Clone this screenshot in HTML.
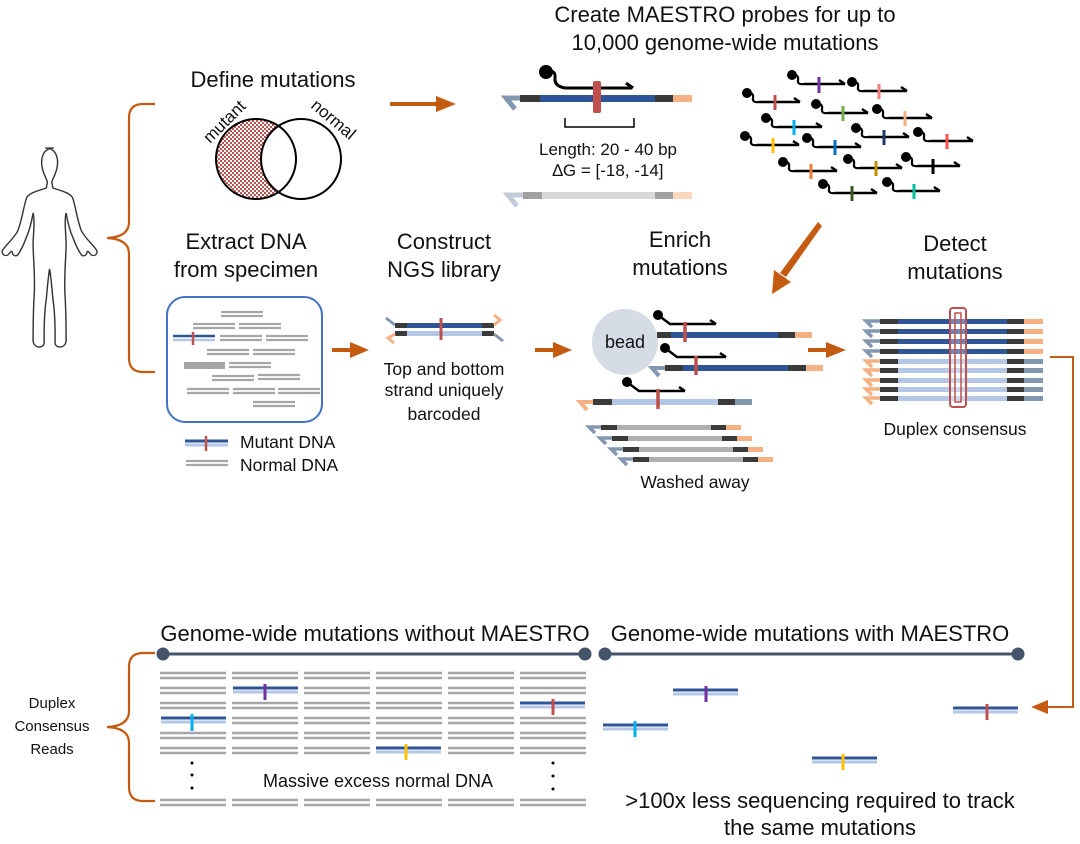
<!DOCTYPE html>
<html><head><meta charset="utf-8"><style>
body{margin:0;background:#fff}
svg{display:block}
text{font-family:"Liberation Sans",sans-serif;fill:#111}
</style></head><body>
<svg width="1080" height="844" viewBox="0 0 1080 844" xmlns="http://www.w3.org/2000/svg">
<defs>
<pattern id="chk" width="4" height="4" patternUnits="userSpaceOnUse"><rect width="4" height="4" fill="#fff"/><rect width="2" height="2" fill="#c0504d"/><rect x="2" y="2" width="2" height="2" fill="#c0504d"/></pattern>
<mask id="lm"><rect x="0" y="0" width="1080" height="844" fill="#fff"/><circle cx="301" cy="159" r="40" fill="#000"/></mask>
<g id="probe"><circle cx="0" cy="0" r="5" fill="#000"/><path d="M0,0 q7,-1 6,5 q-1,5 6,4" fill="none" stroke="#000" stroke-width="2.2"/></g>
<g id="mut"><line x1="0" y1="0" x2="65" y2="0" stroke="#2f5597" stroke-width="3"/><line x1="0" y1="4" x2="65" y2="4" stroke="#b4c7e7" stroke-width="3"/></g>
<g id="nor"><line x1="0" y1="0" x2="66" y2="0" stroke="#a6a6a6" stroke-width="2.5"/><line x1="0" y1="5" x2="66" y2="5" stroke="#a6a6a6" stroke-width="2.5"/></g>
<g id="nor2"><line x1="0" y1="0" x2="42" y2="0" stroke="#a6a6a6" stroke-width="2.2"/><line x1="0" y1="4" x2="42" y2="4" stroke="#a6a6a6" stroke-width="2.2"/></g>
</defs>

<!-- titles -->
<text x="725" y="22" font-size="22" text-anchor="middle">Create MAESTRO probes for up to</text>
<text x="725" y="50" font-size="22" text-anchor="middle">10,000 genome-wide mutations</text>
<text x="273" y="87" font-size="22" text-anchor="middle">Define mutations</text>

<!-- human -->
<g fill="none" stroke="#333" stroke-width="1.3" transform="translate(54,145) scale(1.1,1) translate(-50,-145)">
<path d="M50,148 c-10,0 -12,10 -11,18 c1,8 4,12 5,16 l-1,6 c-8,3 -16,5 -18,10 c-3,10 -4,22 -8,33 c-4,8 -9,12 -13,18 c-3,4 1,8 4,6 c2,-2 3,-5 4,-3 c0,3 3,5 5,3 c4,-6 6,-12 8,-18 c4,-10 5,-18 6,-24 c2,8 0,20 0,32 c0,12 2,30 1,50 c-1,18 -1,30 -1,45 c0,8 8,9 10,4 c0,-16 0,-30 2,-45 c1,-12 2,-25 3,-30 c1,5 2,18 3,30 c2,15 2,29 2,45 c2,5 10,4 10,-4 c0,-15 0,-27 -1,-45 c-1,-20 1,-38 1,-50 c0,-12 -2,-24 0,-32 c1,6 2,14 6,24 c2,6 4,12 8,18 c2,2 5,0 5,-3 c1,-2 2,1 4,3 c3,2 7,-2 4,-6 c-4,-6 -9,-10 -13,-18 c-4,-11 -5,-23 -8,-33 c-2,-5 -10,-7 -18,-10 l-1,-6 c1,-4 4,-8 5,-16 c1,-8 -1,-18 -11,-18 z"/>
</g>

<!-- braces -->
<g fill="none" stroke="#c55a11" stroke-width="2.2">
<path d="M155,104 h-12 q-14,0 -14,14 v104 q0,15 -22,16 q22,1 22,16 v104 q0,14 14,14 h12"/>
<path d="M155,653 h-12 q-14,0 -14,14 v44 q0,15 -22,16 q22,1 22,16 v44 q0,14 14,14 h12"/>
</g>

<!-- venn -->
<circle cx="256" cy="159" r="40" fill="url(#chk)" stroke="none" mask="url(#lm)"/>
<circle cx="256" cy="159" r="40" fill="none" stroke="#000" stroke-width="2"/>
<circle cx="301" cy="159" r="40" fill="none" stroke="#000" stroke-width="2"/>
<text x="0" y="0" font-size="17" transform="translate(210,144) rotate(-45)">mutant</text>
<text x="0" y="0" font-size="17" transform="translate(310,107) rotate(40)">normal</text>

<!-- orange arrows -->
<g fill="#c55a11">
<rect x="390" y="102" width="48" height="4"/><polygon points="436,96 456,104 436,112"/>
<rect x="332" y="348" width="20" height="4"/><polygon points="350,342 369,350 350,358"/>
<rect x="535" y="348" width="20" height="4"/><polygon points="553,342 572,350 553,358"/>
<rect x="808" y="348" width="20" height="4"/><polygon points="826,342 846,350 826,358"/>
<polygon points="818,222 822,226 786,277 780,273"/><polygon points="774,270 791,282 772,294"/>
</g>
<path d="M1050,357 H1073 V707 H1046" fill="none" stroke="#c55a11" stroke-width="2"/>
<polygon points="1048,700 1031,707 1048,714" fill="#c55a11"/>

<!-- main probe diagram -->
<g>
<path d="M520,98 H506 l9,11" fill="none" stroke="#8497b0" stroke-width="5"/>
<rect x="520" y="95" width="20" height="7" fill="#3a3a3a"/>
<rect x="540" y="95" width="115" height="7" fill="#2f5597"/>
<rect x="655" y="95" width="18" height="7" fill="#3a3a3a"/>
<rect x="673" y="95" width="19" height="7" fill="#f4b183"/>
<circle cx="546" cy="72" r="7" fill="#000"/>
<path d="M546,72 q10,-3 9,6 q-1,8 10,10 H632 M626,83 l7,5" fill="none" stroke="#000" stroke-width="3"/>
<rect x="593" y="81" width="8" height="32" rx="2" fill="#c0504d"/>
<path d="M565,118 v9 h69 v-9" fill="none" stroke="#000" stroke-width="1.5"/>
<text x="608" y="155" font-size="17" text-anchor="middle">Length: 20 - 40 bp</text>
<text x="608" y="176" font-size="17" text-anchor="middle">∆G = [-18, -14]</text>
<path d="M523,195 H508 l9,11" fill="none" stroke="#c1cbd9" stroke-width="5"/>
<rect x="523" y="192" width="19" height="7" fill="#a0a0a0"/>
<rect x="542" y="192" width="113" height="7" fill="#d8d8d8"/>
<rect x="655" y="192" width="18" height="7" fill="#a0a0a0"/>
<rect x="673" y="192" width="19" height="7" fill="#fad7be"/>
</g>

<!-- probe cluster -->
<g stroke-width="2.5" fill="none" stroke="#000">
<path d="M804,84 H845 M839,80 l6,4"/><path d="M864,91 H907 M901,87 l6,4"/>
<path d="M759,102 H800 M794,98 l6,4"/><path d="M828,113 H868 M862,109 l6,4"/>
<path d="M889,118 H932 M926,114 l6,4"/><path d="M778,127 H822 M816,123 l6,4"/>
<path d="M868,137 H909 M903,133 l6,4"/><path d="M930,141 H973 M967,137 l6,4"/>
<path d="M757,145 H799 M793,141 l6,4"/><path d="M819,147 H861 M855,143 l6,4"/>
<path d="M795,171 H837 M831,167 l6,4"/><path d="M860,168 H902 M896,164 l6,4"/>
<path d="M918,166 H960 M954,162 l6,4"/><path d="M835,193 H877 M871,189 l6,4"/>
<path d="M899,191 H940 M934,187 l6,4"/>
</g>
<use href="#probe" x="792" y="75"/><use href="#probe" x="852" y="82"/><use href="#probe" x="747" y="93"/>
<use href="#probe" x="816" y="104"/><use href="#probe" x="877" y="109"/><use href="#probe" x="766" y="118"/>
<use href="#probe" x="856" y="128"/><use href="#probe" x="918" y="132"/><use href="#probe" x="745" y="136"/>
<use href="#probe" x="807" y="138"/><use href="#probe" x="783" y="162"/><use href="#probe" x="848" y="159"/>
<use href="#probe" x="906" y="157"/><use href="#probe" x="823" y="184"/><use href="#probe" x="887" y="182"/>
<g stroke-width="3">
<line x1="819" y1="77" x2="819" y2="93" stroke="#7030a0"/><line x1="879" y1="84" x2="879" y2="99" stroke="#f08080"/>
<line x1="775" y1="95" x2="775" y2="110" stroke="#c0504d"/><line x1="843" y1="106" x2="843" y2="121" stroke="#70ad47"/>
<line x1="905" y1="111" x2="905" y2="126" stroke="#f4b183"/><line x1="794" y1="120" x2="794" y2="135" stroke="#00b0f0"/>
<line x1="884" y1="130" x2="884" y2="145" stroke="#1f3864"/><line x1="947" y1="134" x2="947" y2="149" stroke="#ff5050"/>
<line x1="773" y1="138" x2="773" y2="153" stroke="#ffc000"/><line x1="835" y1="140" x2="835" y2="155" stroke="#0070c0"/>
<line x1="811" y1="164" x2="811" y2="179" stroke="#ed7d31"/><line x1="876" y1="161" x2="876" y2="176" stroke="#bf9000"/>
<line x1="933" y1="159" x2="933" y2="174" stroke="#000"/><line x1="852" y1="186" x2="852" y2="201" stroke="#375623"/>
<line x1="914" y1="184" x2="914" y2="199" stroke="#00c0a0"/>
</g>

<!-- row2 labels -->
<g font-size="22" text-anchor="middle">
<text x="246" y="249">Extract DNA</text><text x="246" y="277">from specimen</text>
<text x="444" y="249">Construct</text><text x="444" y="277">NGS library</text>
<text x="680" y="247">Enrich</text><text x="680" y="275">mutations</text>
<text x="955" y="251">Detect</text><text x="955" y="279">mutations</text>
</g>

<!-- specimen box -->
<rect x="167" y="297" width="155" height="125" rx="18" fill="none" stroke="#4472c4" stroke-width="2"/>
<use href="#nor2" x="221" y="312"/><use href="#nor2" x="193" y="324"/><use href="#nor2" x="239" y="324"/>
<line x1="173" y1="336" x2="215" y2="336" stroke="#2f5597" stroke-width="2.5"/><line x1="173" y1="340" x2="215" y2="340" stroke="#b4c7e7" stroke-width="2.5"/>
<line x1="193" y1="332" x2="193" y2="345" stroke="#c0504d" stroke-width="2.5"/>
<use href="#nor2" x="220" y="336"/><use href="#nor2" x="266" y="336"/>
<use href="#nor2" x="207" y="350"/><use href="#nor2" x="253" y="350"/>
<rect x="184" y="362" width="41" height="7" fill="#a6a6a6"/><use href="#nor2" x="229" y="363"/>
<use href="#nor2" x="212" y="376"/><use href="#nor2" x="258" y="375"/>
<use href="#nor2" x="187" y="389"/><use href="#nor2" x="233" y="389"/><use href="#nor2" x="278" y="389"/>
<use href="#nor2" x="253" y="402"/>
<line x1="185" y1="441" x2="228" y2="441" stroke="#2f5597" stroke-width="3"/><line x1="185" y1="445" x2="228" y2="445" stroke="#b4c7e7" stroke-width="3"/>
<line x1="206" y1="436" x2="206" y2="451" stroke="#c0504d" stroke-width="2.5"/>
<use href="#nor2" x="186" y="461"/>
<text x="240" y="448" font-size="17.5">Mutant DNA</text>
<text x="240" y="471" font-size="17.5">Normal DNA</text>

<!-- library -->
<line x1="386" y1="318" x2="395" y2="325" stroke="#8497b0" stroke-width="3"/>
<rect x="395" y="323" width="12" height="5" fill="#3a3a3a"/><rect x="407" y="323" width="75" height="5" fill="#2f5597"/><rect x="482" y="323" width="12" height="5" fill="#3a3a3a"/>
<rect x="395" y="331" width="12" height="5" fill="#3a3a3a"/><rect x="407" y="331" width="75" height="5" fill="#b4c7e7"/><rect x="482" y="331" width="12" height="5" fill="#3a3a3a"/>
<path d="M494,325 l6,-5 l-6,-5" fill="none" stroke="#f4b183" stroke-width="3"/>
<path d="M395,334 l-7,4 l6,5" fill="none" stroke="#f4b183" stroke-width="3"/>
<line x1="494" y1="334" x2="503" y2="341" stroke="#8497b0" stroke-width="3"/>
<line x1="441" y1="318" x2="441" y2="340" stroke="#c0504d" stroke-width="3"/>
<g font-size="17.5" text-anchor="middle"><text x="444" y="375">Top and bottom</text><text x="444" y="396">strand uniquely</text><text x="444" y="420">barcoded</text></g>

<!-- enrich -->
<circle cx="625" cy="342" r="33" fill="#d6dce5"/>
<text x="625" y="348" font-size="18" text-anchor="middle">bead</text>
<rect x="657" y="332" width="14" height="6" fill="#3a3a3a"/><rect x="671" y="332" width="107" height="6" fill="#2f5597"/><rect x="778" y="332" width="17" height="6" fill="#3a3a3a"/><rect x="795" y="332" width="17" height="6" fill="#f4b183"/>
<path d="M665,368 H652 l7,8" fill="none" stroke="#8497b0" stroke-width="4"/>
<rect x="665" y="365" width="18" height="6" fill="#3a3a3a"/><rect x="683" y="365" width="105" height="6" fill="#2f5597"/><rect x="788" y="365" width="18" height="6" fill="#3a3a3a"/><rect x="806" y="365" width="17" height="6" fill="#f4b183"/>
<path d="M593,402 H580 l7,8" fill="none" stroke="#f4b183" stroke-width="4"/>
<rect x="593" y="399" width="19" height="6" fill="#3a3a3a"/><rect x="612" y="399" width="106" height="6" fill="#b4c7e7"/><rect x="718" y="399" width="17" height="6" fill="#3a3a3a"/><rect x="735" y="399" width="17" height="6" fill="#8497b0"/>
<g fill="none" stroke="#000" stroke-width="2.5">
<path d="M658,315 l12,9 H716 M710,320 l6,4"/><path d="M665,348 l12,9 H726 M720,353 l6,4"/><path d="M627,382 l12,9 H685 M679,387 l6,4"/>
</g>
<circle cx="658" cy="315" r="5"/><circle cx="665" cy="348" r="5"/><circle cx="627" cy="382" r="5"/>
<g stroke="#c0504d" stroke-width="3.5"><line x1="685" y1="322" x2="685" y2="342"/><line x1="696" y1="356" x2="696" y2="375"/><line x1="658" y1="389" x2="658" y2="409"/></g>
<g id="gs">
<path d="M601,427 H589 l6,6" fill="none" stroke="#8497b0" stroke-width="3.5"/>
<rect x="601" y="425" width="16" height="5" fill="#3a3a3a"/><rect x="617" y="425" width="94" height="5" fill="#b0b0b0"/><rect x="711" y="425" width="15" height="5" fill="#3a3a3a"/><rect x="726" y="425" width="15" height="5" fill="#f4b183"/>
</g>
<use href="#gs" x="11" y="11"/><use href="#gs" x="22" y="22"/><use href="#gs" x="32" y="32"/>
<text x="695" y="488" font-size="17.5" text-anchor="middle">Washed away</text>

<!-- detect -->
<g id="dd">
<path d="M880,321 H866 l6,6" fill="none" stroke="#8497b0" stroke-width="3.5"/>
<rect x="880" y="319" width="18" height="5" fill="#3a3a3a"/><rect x="898" y="319" width="109" height="5" fill="#2f5597"/><rect x="1007" y="319" width="17" height="5" fill="#3a3a3a"/><rect x="1024" y="319" width="19" height="5" fill="#f4b183"/>
</g>
<use href="#dd" y="10"/><use href="#dd" y="20"/><use href="#dd" y="30"/>
<g id="dl">
<path d="M880,361 H866 l6,6" fill="none" stroke="#f4b183" stroke-width="3.5"/>
<rect x="880" y="359" width="18" height="5" fill="#3a3a3a"/><rect x="898" y="359" width="109" height="5" fill="#b4c7e7"/><rect x="1007" y="359" width="17" height="5" fill="#3a3a3a"/><rect x="1024" y="359" width="19" height="5" fill="#8497b0"/>
</g>
<use href="#dl" y="9"/><use href="#dl" y="19"/><use href="#dl" y="28"/><use href="#dl" y="37"/>
<rect x="950" y="308" width="16" height="99" rx="3" fill="#fff" fill-opacity="0.3" stroke="#c0504d" stroke-width="2"/>
<rect x="955" y="313" width="6" height="89" fill="none" stroke="#c0504d" stroke-width="1.5"/>
<text x="955" y="435" font-size="17.5" text-anchor="middle">Duplex consensus</text>

<!-- bottom -->
<text x="375" y="641" font-size="22" text-anchor="middle">Genome-wide mutations without MAESTRO</text>
<text x="810" y="641" font-size="22" text-anchor="middle">Genome-wide mutations with MAESTRO</text>
<g stroke="#44546a" fill="#44546a"><line x1="163" y1="654" x2="585" y2="654" stroke-width="3"/><circle cx="163" cy="654" r="6"/><circle cx="585" cy="654" r="6"/>
<line x1="605" y1="654" x2="1018" y2="654" stroke-width="3"/><circle cx="605" cy="654" r="6"/><circle cx="1018" cy="654" r="6"/></g>
<g font-size="15" text-anchor="middle"><text x="52" y="708">Duplex</text><text x="52" y="731">Consensus</text><text x="52" y="754">Reads</text></g>

<g id="col">
<use href="#nor" x="160" y="673"/><use href="#nor" x="160" y="688"/><use href="#nor" x="160" y="703"/><use href="#nor" x="160" y="718"/><use href="#nor" x="160" y="733"/><use href="#nor" x="160" y="748"/><use href="#nor" x="160" y="800"/>
</g>
<use href="#col" x="72"/><use href="#col" x="144"/><use href="#col" x="216"/><use href="#col" x="288"/><use href="#col" x="360"/>
<rect x="158" y="715" width="70" height="12" fill="#fff"/><use href="#mut" x="161" y="718"/><line x1="192" y1="714" x2="192" y2="731" stroke="#00b0f0" stroke-width="3"/>
<rect x="230" y="685" width="70" height="12" fill="#fff"/><use href="#mut" x="233" y="688"/><line x1="265" y1="684" x2="265" y2="700" stroke="#7030a0" stroke-width="3"/>
<rect x="374" y="745" width="70" height="12" fill="#fff"/><use href="#mut" x="376" y="748"/><line x1="406" y1="744" x2="406" y2="760" stroke="#ffc000" stroke-width="3"/>
<rect x="518" y="700" width="70" height="12" fill="#fff"/><use href="#mut" x="520" y="703"/><line x1="553" y1="699" x2="553" y2="715" stroke="#c0504d" stroke-width="3"/>
<g fill="#000"><circle cx="192" cy="763" r="1.5"/><circle cx="192" cy="775" r="1.5"/><circle cx="192" cy="788" r="1.5"/>
<circle cx="553" cy="763" r="1.5"/><circle cx="553" cy="776" r="1.5"/><circle cx="553" cy="789" r="1.5"/></g>
<text x="378" y="787" font-size="18" text-anchor="middle">Massive excess normal DNA</text>

<use href="#mut" x="603" y="725"/><line x1="635" y1="721" x2="635" y2="737" stroke="#00b0f0" stroke-width="3"/>
<use href="#mut" x="673" y="690"/><line x1="706" y1="686" x2="706" y2="702" stroke="#7030a0" stroke-width="3"/>
<use href="#mut" x="812" y="758"/><line x1="843" y1="754" x2="843" y2="770" stroke="#ffc000" stroke-width="3"/>
<use href="#mut" x="953" y="708"/><line x1="987" y1="704" x2="987" y2="720" stroke="#c0504d" stroke-width="3"/>
<text x="820" y="808" font-size="22" text-anchor="middle">&gt;100x less sequencing required to track</text>
<text x="820" y="835" font-size="22" text-anchor="middle">the same mutations</text>
</svg>
</body></html>
